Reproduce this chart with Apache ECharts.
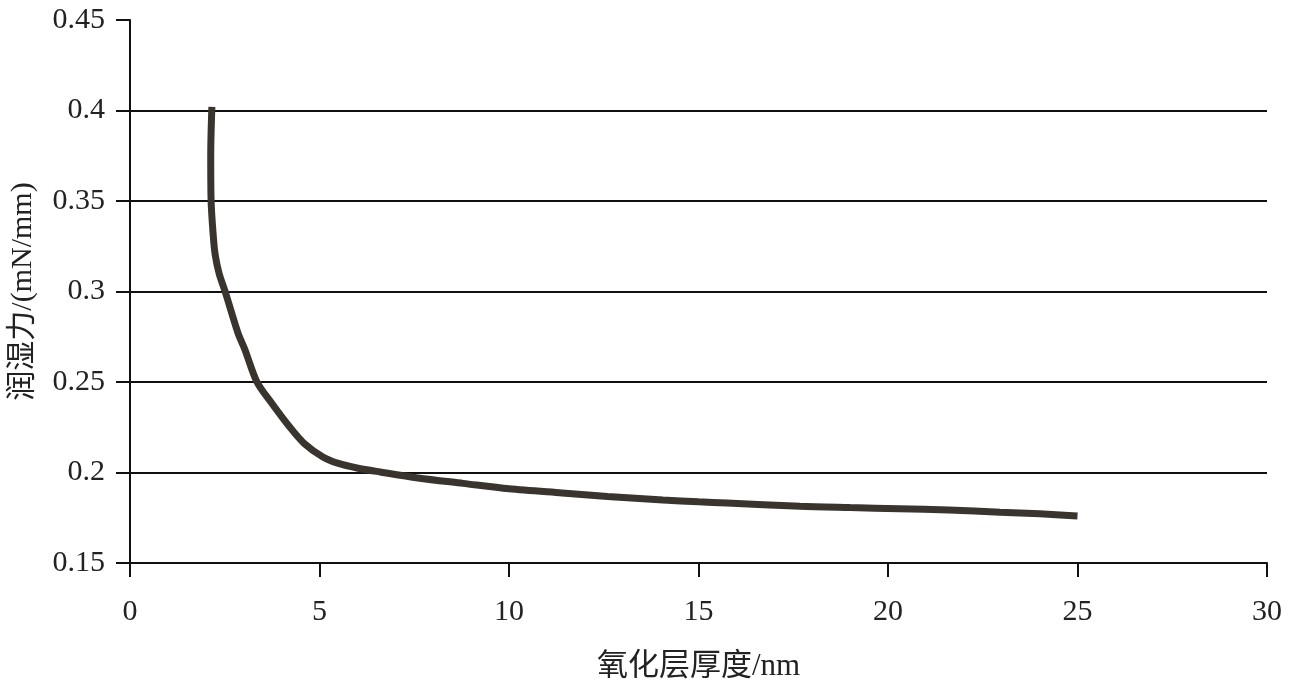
<!DOCTYPE html>
<html>
<head>
<meta charset="utf-8">
<script src="https://cdn.jsdelivr.net/npm/echarts@6/dist/echarts.min.js"></script>
<style>html,body{margin:0;padding:0;background:#fff;}#c{width:1291px;height:690px;}</style>
</head>
<body>
<div id="c"></div>
<script>
var thickness = [2.16, 2.13, 2.14, 2.2, 2.25, 2.35, 2.51, 2.85, 3.03, 3.35, 3.75, 4.22, 4.6, 5.09, 5.5, 5.99, 6.6, 7.6, 8.79, 10.0, 11.4, 12.6, 14.06, 15.0, 15.75, 17.68, 19.0, 20.3, 21.6, 22.96, 24.0, 25.0];
var force = [0.402, 0.375, 0.35, 0.33, 0.32, 0.31, 0.30, 0.277, 0.268, 0.25, 0.238, 0.225, 0.216, 0.2086, 0.205, 0.2025, 0.2003, 0.197, 0.194, 0.191, 0.1887, 0.1868, 0.1848, 0.1838, 0.1831, 0.1813, 0.1806, 0.18, 0.1793, 0.1781, 0.1772, 0.176];
var xTicks = [0, 5, 10, 15, 20, 25, 30];
var yTicks = [0.15, 0.2, 0.25, 0.3, 0.35, 0.4, 0.45];
var xTitle = '氧化层厚度/nm';
var yTitle = '润湿力/(mN/mm)';

var pts = thickness.map(function (x, i) { return [x, force[i]]; });
var serif = "'Liberation Serif', 'Times New Roman', 'Noto Sans CJK SC', serif";
var chart = echarts.init(document.getElementById('c'), null, {renderer: 'canvas'});
chart.setOption({
  animation: false,
  backgroundColor: '#fff',
  grid: {left: 130, right: 24, top: 20, bottom: 127, containLabel: false},
  xAxis: {
    type: 'value', min: xTicks[0], max: xTicks[xTicks.length - 1], interval: 5,
    name: xTitle, nameLocation: 'middle', nameGap: 88,
    nameTextStyle: {fontFamily: serif, fontSize: 31, color: '#222'},
    axisLine: {show: true, onZero: false, lineStyle: {color: '#111', width: 2}},
    axisTick: {show: true, length: 14, lineStyle: {color: '#111', width: 2}},
    axisLabel: {margin: 34, fontFamily: serif, fontSize: 30, color: '#222'},
    splitLine: {show: false}
  },
  yAxis: {
    type: 'value', min: yTicks[0], max: yTicks[yTicks.length - 1], interval: 0.05,
    name: yTitle, nameLocation: 'middle', nameGap: 92,
    nameTextStyle: {fontFamily: serif, fontSize: 30, color: '#222'},
    axisLine: {show: true, onZero: false, lineStyle: {color: '#111', width: 2}},
    axisTick: {show: true, length: 14, lineStyle: {color: '#111', width: 2}},
    axisLabel: {margin: 25, fontFamily: serif, fontSize: 30, color: '#222',
      formatter: function (v) { return String(parseFloat(v.toFixed(2))); }},
    splitLine: {show: true, showMinLine: false, showMaxLine: false, lineStyle: {color: '#111', width: 2}}
  },
  series: [{
    type: 'line', data: pts, showSymbol: false, smooth: 0.3,
    lineStyle: {color: '#3a342e', width: 7}
  }]
});
</script>
</body>
</html>
